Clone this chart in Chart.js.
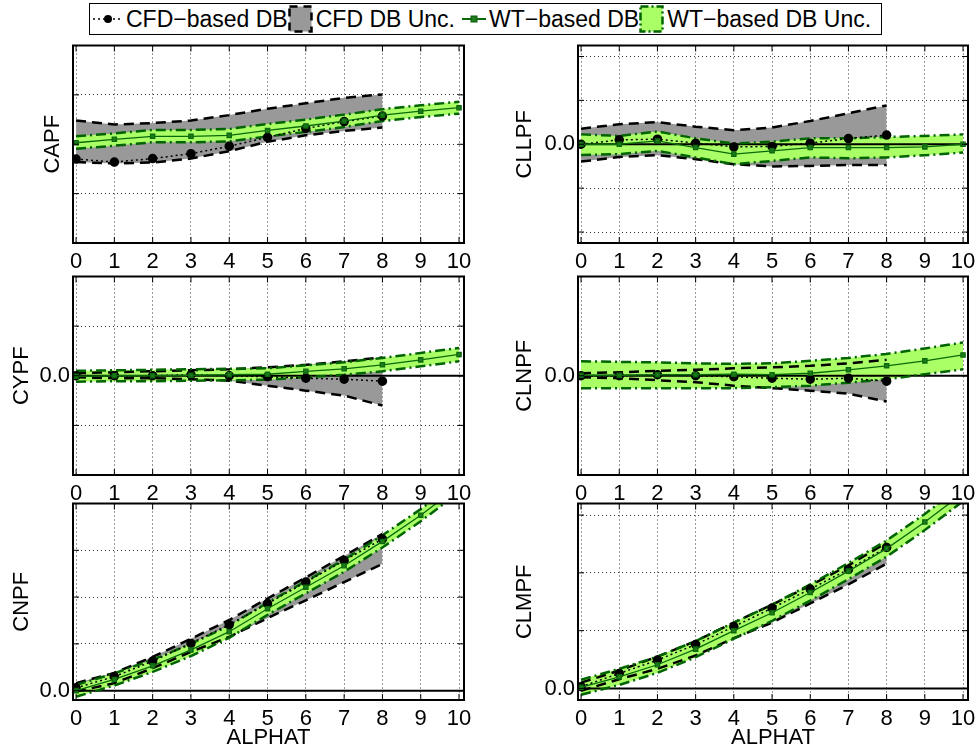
<!DOCTYPE html>
<html>
<head>
<meta charset="utf-8">
<script src="https://cdn.jsdelivr.net/npm/chart.js@4.4.0/dist/chart.umd.min.js"></script>
<style>
  body { margin: 0; background: #fff; font-family: "Liberation Sans", Arial, sans-serif; }
  #page { position: relative; width: 980px; height: 754px; overflow: hidden; }
  .panel { position: absolute; }
  #legend {
    position: absolute; left: 89px; top: 3px; width: 791px; height: 30px;
    border: 1px solid #000; background: #fff; display: flex; align-items: center;
    font-size: 23px; white-space: nowrap; color: #000;
  }
  #legend svg { display: block; flex: none; }
</style>
</head>
<body>
<div id="page">
  <div id="legend">
    <svg width="30" height="20" style="margin-left:3px"><line x1="0" y1="10" x2="30" y2="10" stroke="#000" stroke-width="1.5" stroke-dasharray="2,3"/><circle cx="15" cy="10" r="4" fill="#000"/></svg>
    <span style="margin-left:3px">CFD−based DB</span>
    <svg width="25" height="28"><rect x="1.5" y="1.5" width="22" height="25" fill="#999" stroke="#000" stroke-width="2.5" stroke-dasharray="8,6"/></svg>
    <span style="margin-left:3px">CFD DB Unc.</span>
    <svg width="24" height="20" style="margin-left:7px"><line x1="0" y1="10" x2="24" y2="10" stroke="#0a6a0a" stroke-width="2"/><rect x="9" y="7" width="6" height="6" fill="#1f7a1f" stroke="#0a5a0a"/></svg>
    <span style="margin-left:3px">WT−based DB</span>
    <svg width="25" height="28"><rect x="1.5" y="1.5" width="22" height="25" fill="#aaff66" stroke="#006400" stroke-width="2.5" stroke-dasharray="8,3,2,3"/></svg>
    <span style="margin-left:3px">WT−based DB Unc.</span>
  </div>
  <div class="panel" style="left:0;top:40px;width:500px;height:233px"><canvas id="capf"></canvas></div>
  <div class="panel" style="left:490px;top:40px;width:490px;height:233px"><canvas id="cllpf"></canvas></div>
  <div class="panel" style="left:0;top:271px;width:500px;height:234px"><canvas id="cypf"></canvas></div>
  <div class="panel" style="left:490px;top:271px;width:490px;height:234px"><canvas id="clnpf"></canvas></div>
  <div class="panel" style="left:0;top:498px;width:500px;height:253px"><canvas id="cnpf"></canvas></div>
  <div class="panel" style="left:490px;top:498px;width:490px;height:253px"><canvas id="clmpf"></canvas></div>
</div>
<script>
// angle of attack grid
const alphaCfd = [0, 1, 2, 3, 4, 5, 6, 7, 8];
const alphaWt = [0, 1, 2, 3, 4, 5, 6, 7, 8, 9, 10];
const xTicks = [0, 1, 2, 3, 4, 5, 6, 7, 8, 9, 10];
const xMin = -0.08, xMax = 10.13;

// CAPF
const capfCfd   = [0.270, 0.264, 0.271, 0.281, 0.296, 0.314, 0.332, 0.346, 0.357];
const capfCfdHi = [0.348, 0.340, 0.343, 0.348, 0.359, 0.372, 0.383, 0.394, 0.401];
const capfCfdLo = [0.264, 0.261, 0.263, 0.271, 0.286, 0.305, 0.318, 0.327, 0.334];
const capfWt    = [0.303, 0.310, 0.316, 0.316, 0.318, 0.328, 0.337, 0.347, 0.359, 0.367, 0.374];
const capfWtHi  = [0.316, 0.322, 0.329, 0.329, 0.331, 0.341, 0.350, 0.360, 0.371, 0.379, 0.386];
const capfWtLo  = [0.291, 0.297, 0.304, 0.304, 0.306, 0.316, 0.325, 0.335, 0.347, 0.355, 0.362];
const capfTicks = [0.1, 0.2, 0.3, 0.4, 0.5];

// CLLPF
const cllpfCfd   = [0.0000, 0.0020, 0.0023, 0.0005, -0.0012, -0.0010, 0.0005, 0.0026, 0.0042];
const cllpfCfdHi = [0.0071, 0.0091, 0.0101, 0.0080, 0.0064, 0.0076, 0.0106, 0.0141, 0.0177];
const cllpfCfdLo = [-0.0079, -0.0058, -0.0050, -0.0068, -0.0091, -0.0101, -0.0099, -0.0094, -0.0094];
const cllpfWt    = [0.0000, 0.0000, 0.0015, -0.0015, -0.0045, -0.0030, -0.0015, -0.0015, -0.0015, -0.0012, 0.0000];
const cllpfWtHi  = [0.0045, 0.0038, 0.0058, 0.0027, 0.0003, 0.0012, 0.0027, 0.0027, 0.0033, 0.0038, 0.0045];
const cllpfWtLo  = [-0.0049, -0.0045, -0.0030, -0.0060, -0.0091, -0.0076, -0.0060, -0.0064, -0.0060, -0.0050, -0.0038];
const cllpfTicks = [-0.04, -0.02, 0, 0.02, 0.04];

// CYPF
const cypfCfd   = [0, 0, 0, 0.0002, 0, -0.0002, -0.0005, -0.0007, -0.0011];
const cypfCfdHi = [0.0005, 0.0007, 0.0009, 0.0011, 0.0013, 0.0017, 0.0022, 0.0029, 0.0037];
const cypfCfdLo = [-0.0003, -0.0005, -0.0005, -0.0007, -0.0010, -0.0020, -0.0030, -0.0040, -0.0060];
const cypfWt    = [-0.0001, 0, 0, 0.0001, 0.0002, 0.0003, 0.0009, 0.0014, 0.0022, 0.0032, 0.0043];
const cypfWtHi  = [0.0010, 0.0011, 0.0012, 0.0013, 0.0014, 0.0015, 0.0021, 0.0027, 0.0036, 0.0046, 0.0056];
const cypfWtLo  = [-0.0012, -0.0011, -0.0011, -0.0010, -0.0009, -0.0008, -0.0003, 0.0002, 0.0009, 0.0019, 0.0029];
const cypfTicks = [-0.02, -0.01, 0, 0.01, 0.02];

// CLNPF
const clnpfCfd   = [0, 0, 0.0002, 0, -0.0002, -0.0005, -0.0007, -0.0005, -0.0011];
const clnpfCfdHi = [0.0005, 0.0007, 0.0010, 0.0012, 0.0015, 0.0017, 0.0020, 0.0025, 0.0032];
const clnpfCfdLo = [-0.0003, -0.0005, -0.0009, -0.0013, -0.0020, -0.0025, -0.0030, -0.0036, -0.0052];
const clnpfWt    = [0.0001, 0.0001, 0.0002, 0.0002, 0.0003, 0.0002, 0.0005, 0.0012, 0.0020, 0.0030, 0.0042];
const clnpfWtHi  = [0.0029, 0.0028, 0.0027, 0.0025, 0.0024, 0.0025, 0.0030, 0.0036, 0.0044, 0.0055, 0.0067];
const clnpfWtLo  = [-0.0025, -0.0025, -0.0025, -0.0025, -0.0025, -0.0023, -0.0020, -0.0014, -0.0007, 0.0003, 0.0013];
const clnpfTicks = [0];

// CNPF
const cnpfCfd   = [0.006, 0.030, 0.063, 0.101, 0.141, 0.186, 0.232, 0.278, 0.324];
const cnpfCfdHi = [0.016, 0.038, 0.072, 0.111, 0.151, 0.197, 0.242, 0.288, 0.335];
const cnpfCfdLo = [-0.002, 0.016, 0.048, 0.083, 0.115, 0.155, 0.193, 0.232, 0.271];
const cnpfWt    = [0.000, 0.024, 0.053, 0.087, 0.126, 0.175, 0.221, 0.267, 0.319, 0.375, 0.437];
const cnpfWtHi  = [0.012, 0.037, 0.066, 0.100, 0.139, 0.188, 0.234, 0.280, 0.332, 0.388, 0.450];
const cnpfWtLo  = [-0.013, 0.011, 0.040, 0.074, 0.113, 0.162, 0.208, 0.254, 0.306, 0.362, 0.424];
const cnpfTicks = [0, 0.1, 0.2, 0.3, 0.4];

// CLMPF
const clmpfCfd   = [0.003, 0.026, 0.049, 0.076, 0.107, 0.139, 0.172, 0.206, 0.244];
const clmpfCfdHi = [0.010, 0.031, 0.055, 0.082, 0.114, 0.145, 0.178, 0.213, 0.252];
const clmpfCfdLo = [-0.004, 0.016, 0.034, 0.057, 0.087, 0.114, 0.147, 0.180, 0.216];
const clmpfWt    = [0.002, 0.020, 0.041, 0.068, 0.100, 0.131, 0.166, 0.203, 0.242, 0.288, 0.338];
const clmpfWtHi  = [0.015, 0.034, 0.055, 0.082, 0.114, 0.145, 0.180, 0.217, 0.256, 0.302, 0.352];
const clmpfWtLo  = [-0.011, 0.006, 0.027, 0.054, 0.086, 0.117, 0.152, 0.189, 0.228, 0.274, 0.324];
const clmpfTicks = [0, 0.1, 0.2, 0.3];

const FONT = { family: '"Liberation Sans", Arial, sans-serif', size: 22 };
const wtLine = '#0a6a0a', wtBand = '#006400', wtFill = '#aaff66', cfdFill = '#999999';

const pts = (xs, ys) => ys.map((y, i) => ({ x: xs[i], y: y }));

// matlab style box with inward ticks
const boxPlugin = {
  id: 'box',
  afterDraw(chart) {
    const { ctx, chartArea: a, scales } = chart;
    ctx.save();
    ctx.strokeStyle = '#000';
    ctx.lineWidth = 1;
    ctx.beginPath();
    scales.x.ticks.forEach(t => {
      const px = scales.x.getPixelForValue(t.value);
      ctx.moveTo(px, a.top); ctx.lineTo(px, a.top + 6);
      ctx.moveTo(px, a.bottom); ctx.lineTo(px, a.bottom - 6);
    });
    scales.y.ticks.forEach(t => {
      const py = scales.y.getPixelForValue(t.value);
      ctx.moveTo(a.left, py); ctx.lineTo(a.left + 6, py);
      ctx.moveTo(a.right, py); ctx.lineTo(a.right - 6, py);
    });
    ctx.stroke();
    ctx.lineWidth = 2;
    ctx.strokeRect(a.left, a.top, a.right - a.left, a.bottom - a.top);
    ctx.restore();
  }
};

function makePanel(id, p) {
  const datasets = [
    { data: pts(alphaWt, p.wt), borderColor: wtLine, borderWidth: 1.3, pointStyle: 'rect',
      pointRadius: 3, pointBackgroundColor: '#1f7a1f', pointBorderColor: wtLine, fill: false },
    { data: pts(alphaCfd, p.cfd), borderColor: '#000', borderWidth: 1.5, borderDash: [2, 3],
      pointRadius: 4, pointBackgroundColor: '#000', pointBorderColor: '#000', fill: false },
    { data: pts(alphaWt, p.wtHi), borderColor: wtBand, borderWidth: 2.5, borderDash: [10, 4, 2, 4],
      pointRadius: 0, fill: '+1', backgroundColor: wtFill },
    { data: pts(alphaWt, p.wtLo), borderColor: wtBand, borderWidth: 2.5, borderDash: [10, 4, 2, 4],
      pointRadius: 0, fill: false },
    { data: pts(alphaCfd, p.cfdHi), borderColor: '#000', borderWidth: 2.5, borderDash: [10, 6],
      pointRadius: 0, fill: '+1', backgroundColor: cfdFill },
    { data: pts(alphaCfd, p.cfdLo), borderColor: '#000', borderWidth: 2.5, borderDash: [10, 6],
      pointRadius: 0, fill: false }
  ];
  if (p.yMin < 0) {
    datasets.push({ data: [{ x: xMin, y: 0 }, { x: xMax, y: 0 }], borderColor: '#000',
      borderWidth: 2, pointRadius: 0, fill: false });
  }

  new Chart(document.getElementById(id), {
    type: 'line',
    data: { datasets: datasets },
    plugins: [boxPlugin],
    options: {
      responsive: true,
      maintainAspectRatio: false,
      animation: false,
      layout: { padding: { top: 5, right: p.padRight, left: 0, bottom: 0 } },
      plugins: {
        legend: { display: false },
        tooltip: { enabled: false },
        filler: { drawTime: 'beforeDatasetsDraw' }
      },
      scales: {
        x: {
          type: 'linear', min: xMin, max: xMax,
          afterBuildTicks: s => { s.ticks = xTicks.map(v => ({ value: v })); },
          afterFit: s => { s.height = p.xAxisH; s.paddingLeft = 0; s.paddingRight = 0; },
          ticks: { font: FONT, color: '#000', padding: 6, autoSkip: false, maxRotation: 0 },
          grid: { color: '#333', lineWidth: 1, drawTicks: false },
          border: { display: false, dash: [1, 3] },
          title: { display: !!p.xTitle, text: p.xTitle, font: FONT, color: '#000', padding: { top: 0, bottom: 0 } }
        },
        y: {
          type: 'linear', min: p.yMin, max: p.yMax,
          afterBuildTicks: s => { s.ticks = p.ticks.map(v => ({ value: v })); },
          afterFit: s => { s.width = p.yAxisW; s.paddingTop = 0; s.paddingBottom = 0; },
          ticks: { font: FONT, color: '#000', padding: 3, callback: v => (v === 0 ? '0.0' : '') },
          grid: { color: '#333', lineWidth: 1, drawTicks: false },
          border: { display: false, dash: [1, 3] },
          title: { display: true, text: p.yTitle, font: FONT, color: '#000', padding: { top: p.titlePad, bottom: 0 } }
        }
      }
    }
  });
}

const leftCol = { yAxisW: 73, padRight: 36 };
const rightCol = { yAxisW: 88, padRight: 12, titlePad: 22 };

makePanel('capf', Object.assign({}, leftCol, { yTitle: 'CAPF', titlePad: 40, yMin: 0.1, yMax: 0.5, ticks: capfTicks, xAxisH: 30,
  cfd: capfCfd, cfdHi: capfCfdHi, cfdLo: capfCfdLo, wt: capfWt, wtHi: capfWtHi, wtLo: capfWtLo }));
makePanel('cllpf', Object.assign({}, rightCol, { yTitle: 'CLLPF', yMin: -0.045, yMax: 0.045, ticks: cllpfTicks, xAxisH: 30,
  cfd: cllpfCfd, cfdHi: cllpfCfdHi, cfdLo: cllpfCfdLo, wt: cllpfWt, wtHi: cllpfWtHi, wtLo: cllpfWtLo }));
makePanel('cypf', Object.assign({}, leftCol, { yTitle: 'CYPF', titlePad: 9, yMin: -0.02, yMax: 0.02, ticks: cypfTicks, xAxisH: 30,
  cfd: cypfCfd, cfdHi: cypfCfdHi, cfdLo: cypfCfdLo, wt: cypfWt, wtHi: cypfWtHi, wtLo: cypfWtLo }));
makePanel('clnpf', Object.assign({}, rightCol, { yTitle: 'CLNPF', yMin: -0.02, yMax: 0.02, ticks: clnpfTicks, xAxisH: 30,
  cfd: clnpfCfd, cfdHi: clnpfCfdHi, cfdLo: clnpfCfdLo, wt: clnpfWt, wtHi: clnpfWtHi, wtLo: clnpfWtLo }));
makePanel('cnpf', Object.assign({}, leftCol, { yTitle: 'CNPF', titlePad: 9, yMin: -0.02, yMax: 0.4, ticks: cnpfTicks, xAxisH: 51, xTitle: 'ALPHAT',
  cfd: cnpfCfd, cfdHi: cnpfCfdHi, cfdLo: cnpfCfdLo, wt: cnpfWt, wtHi: cnpfWtHi, wtLo: cnpfWtLo }));
makePanel('clmpf', Object.assign({}, rightCol, { yTitle: 'CLMPF', yMin: -0.02, yMax: 0.32, ticks: clmpfTicks, xAxisH: 51, xTitle: 'ALPHAT',
  cfd: clmpfCfd, cfdHi: clmpfCfdHi, cfdLo: clmpfCfdLo, wt: clmpfWt, wtHi: clmpfWtHi, wtLo: clmpfWtLo }));
</script>
</body>
</html>
